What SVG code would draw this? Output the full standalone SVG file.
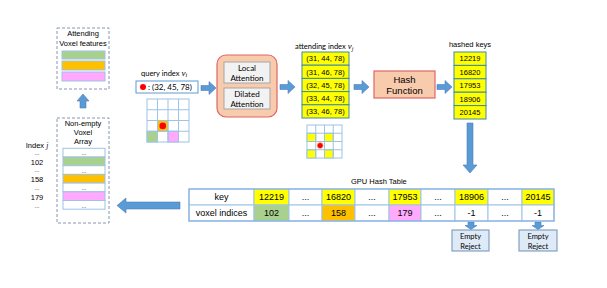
<svg xmlns="http://www.w3.org/2000/svg" width="607" height="288" viewBox="0 0 607 288">
<style>
.a{font-family:"Liberation Sans",Arial,sans-serif;fill:#000}
.c{font-family:Lato,"Liberation Sans",sans-serif;fill:#000}
.m{text-anchor:middle}
.s75{font-size:7.5px}
.s8{font-size:8px}
.s9{font-size:9px}
.dots{font-size:6px}
.dash{fill:#fff;stroke:#8497B0;stroke-width:1;stroke-dasharray:3 2}
.cell{stroke:#9DC3E6;stroke-width:1}
.arrow{fill:#5B9BD5;stroke:#4A7EBB;stroke-width:0.6}
.y{fill:#FFFF00}.g{fill:#A9D18E}.o{fill:#FFC000}.p{fill:#FFA9FF}.w{fill:#fff}
.salmon{fill:#F8CBAD;stroke:#E06666;stroke-width:1.2}
.inner{fill:#F2F2F2;stroke:#A6A6A6;stroke-width:1}
.list{stroke:#3E8AA8;stroke-width:1}
.rej{fill:#DEEBF7;stroke:#6F8FB8;stroke-width:1}
.v{font-family:"Liberation Serif",serif;font-style:italic}
</style>

<g id="connectors">
<path class="arrow" d="M83,94 L89,101 L86,101 L86,108 L80,108 L80,101 L77,101 Z"/>
<path class="arrow" d="M117,205.5 L126,198 L126,202 L180,202 L180,209 L126,209 L126,213 Z"/>
<path class="arrow" d="M201,85.5 L209,85.5 L209,81.5 L216,88 L209,94.5 L209,90.5 L201,90.5 Z"/>
<path class="arrow" d="M280,84.5 L288,84.5 L288,80.5 L295,87 L288,93.5 L288,89.5 L280,89.5 Z"/>
<path class="arrow" d="M354,84.5 L362,84.5 L362,80.5 L369,87 L362,93.5 L362,89.5 L354,89.5 Z"/>
<path class="arrow" d="M437,84.5 L445,84.5 L445,80.5 L452,87 L445,93.5 L445,89.5 L437,89.5 Z"/>
<path class="arrow" d="M467,123 L473,123 L473,165 L477,165 L470,173 L463,165 L467,165 Z"/>
<path class="arrow" d="M468,222 L474,222 L474,225.5 L477,225.5 L471,229.5 L465,225.5 L468,225.5 Z"/>
<path class="arrow" d="M535,222 L541,222 L541,225.5 L544,225.5 L538,229.5 L532,225.5 L535,225.5 Z"/>
</g>

<g id="attending-features">
<rect class="dash" x="57" y="28" width="52" height="61"/>
<text class="a s75 m" x="83" y="36">Attending</text>
<text class="a s75 m" x="83" y="46">Voxel features</text>
<rect class="cell g" x="62" y="51" width="43" height="8"/>
<rect class="cell o" x="62" y="61" width="43" height="9"/>
<rect class="cell p" x="62" y="72" width="43" height="9"/>
</g>

<g id="voxel-array">
<rect class="dash" x="57" y="118" width="52" height="105"/>
<text class="a s75 m" x="83" y="126">Non-empty</text>
<text class="a s75 m" x="83" y="135">Voxel</text>
<text class="a s75 m" x="83" y="144">Array</text>
<rect class="cell w" x="63" y="148.3" width="42" height="8.7"/>
<rect class="cell g" x="63" y="157" width="42" height="8.7"/>
<rect class="cell w" x="63" y="165.7" width="42" height="8.7"/>
<rect class="cell o" x="63" y="174.4" width="42" height="8.7"/>
<rect class="cell w" x="63" y="183.1" width="42" height="8.7"/>
<rect class="cell p" x="63" y="191.8" width="42" height="8.7"/>
<rect class="cell w" x="63" y="200.5" width="42" height="8.7"/>
<text class="a dots m" x="84" y="155.3">...</text>
<text class="a dots m" x="84" y="172.7">...</text>
<text class="a dots m" x="84" y="190.1">...</text>
<text class="a dots m" x="84" y="207.5">...</text>
</g>

<g id="index-labels">
<text class="a s75 m" x="37" y="147.5">Index <tspan class="v">j</tspan></text>
<text class="a dots m" x="37" y="155">...</text>
<text class="a s75 m" x="37" y="165">102</text>
<text class="a dots m" x="37" y="172">...</text>
<text class="a s75 m" x="37" y="182.3">158</text>
<text class="a dots m" x="37" y="190">...</text>
<text class="a s75 m" x="37" y="199.8">179</text>
<text class="a dots m" x="37" y="207.5">...</text>
</g>

<g id="query">
<text class="c s75" x="141" y="75.5">query index <tspan class="v" font-size="9">v</tspan><tspan class="v" font-size="6" dy="1.5">i</tspan></text>
<rect x="136" y="81" width="62" height="12" fill="#fff" stroke="#5B9BD5" stroke-width="1"/>
<circle cx="143" cy="87" r="3" fill="#FF0000"/>
<text class="c s8" x="148" y="90">: (32, 45, 78)</text>
</g>

<g id="query-grid">
<rect class="cell w" x="147" y="99" width="42" height="43"/>
<rect class="cell o" x="157.5" y="120.5" width="10.5" height="10.75"/>
<rect class="cell g" x="147" y="131.25" width="10.5" height="10.75"/>
<rect class="cell p" x="168" y="131.25" width="10.5" height="10.75"/>
<path d="M157.5,99V142M168,99V142M178.5,99V142M147,109.75H189M147,120.5H189M147,131.25H189" stroke="#9DC3E6" stroke-width="1" fill="none"/>
<circle cx="162.75" cy="125.9" r="3.3" fill="#FF0000"/>
</g>

<g id="attention">
<rect class="salmon" x="217" y="55" width="60" height="62" rx="9"/>
<rect class="inner" x="224" y="62" width="46" height="21"/>
<rect class="inner" x="224" y="88" width="46" height="21"/>
<text class="c s8 m" x="247" y="71">Local</text>
<text class="c s8 m" x="247" y="80.5">Attention</text>
<text class="c s8 m" x="247" y="97">Dilated</text>
<text class="c s8 m" x="247" y="106.5">Attention</text>
</g>

<g id="attending-index">
<text class="c s75" x="295" y="49">attending index <tspan class="v" font-size="9">v</tspan><tspan class="v" font-size="6" dy="1.5">j</tspan></text>
<rect class="list y" x="302" y="52" width="47" height="13.2"/>
<rect class="list y" x="302" y="65.2" width="47" height="13.2"/>
<rect class="list y" x="302" y="78.4" width="47" height="13.2"/>
<rect class="list y" x="302" y="91.6" width="47" height="13.2"/>
<rect class="list y" x="302" y="104.8" width="47" height="13.2"/>
<text class="a s75 m" x="325.5" y="61.3">(31, 44, 78)</text>
<text class="a s75 m" x="325.5" y="74.5">(31, 46, 78)</text>
<text class="a s75 m" x="325.5" y="87.7">(32, 45, 78)</text>
<text class="a s75 m" x="325.5" y="100.9">(33, 44, 78)</text>
<text class="a s75 m" x="325.5" y="114.1">(33, 46, 78)</text>
</g>

<g id="attending-grid">
<rect class="cell w" x="307" y="125" width="35" height="33"/>
<rect class="cell y" x="307" y="133.25" width="8.75" height="8.25"/>
<rect class="cell y" x="324.5" y="133.25" width="8.75" height="8.25"/>
<rect class="cell y" x="307" y="149.75" width="8.75" height="8.25"/>
<rect class="cell y" x="324.5" y="149.75" width="8.75" height="8.25"/>
<path d="M315.75,125V158M324.5,125V158M333.25,125V158M307,133.25H342M307,141.5H342M307,149.75H342" stroke="#9DC3E6" stroke-width="1" fill="none"/>
<circle cx="320.1" cy="145.6" r="3" fill="#FF0000" stroke="#FFD27F" stroke-width="0.6"/>
</g>

<g id="hash-function">
<rect class="salmon" x="374" y="71" width="61" height="27"/>
<text class="a m" font-size="9.5" x="404.5" y="82.5">Hash</text>
<text class="a m" font-size="9.5" x="404.5" y="93.5">Function</text>
</g>

<g id="hashed-keys">
<text class="a s75 m" x="470" y="47">hashed keys</text>
<rect class="list y" x="454" y="52" width="32" height="13.4"/>
<rect class="list y" x="454" y="65.4" width="32" height="13.4"/>
<rect class="list y" x="454" y="78.8" width="32" height="13.4"/>
<rect class="list y" x="454" y="92.2" width="32" height="13.4"/>
<rect class="list y" x="454" y="105.6" width="32" height="13.4"/>
<text class="a s75 m" x="470" y="61.4">12219</text>
<text class="a s75 m" x="470" y="74.8">16820</text>
<text class="a s75 m" x="470" y="88.2">17953</text>
<text class="a s75 m" x="470" y="101.6">18906</text>
<text class="a s75 m" x="470" y="115">20145</text>
</g>

<g id="hash-table">
<text class="a s75" x="351" y="184">GPU Hash Table</text>
<rect class="cell w" x="189" y="189" width="65" height="16"/>
<rect class="cell y" x="254" y="189" width="35" height="16"/>
<rect class="cell w" x="289" y="189" width="33" height="16"/>
<rect class="cell y" x="322" y="189" width="33" height="16"/>
<rect class="cell w" x="355" y="189" width="34" height="16"/>
<rect class="cell y" x="389" y="189" width="32" height="16"/>
<rect class="cell w" x="421" y="189" width="34" height="16"/>
<rect class="cell y" x="455" y="189" width="33" height="16"/>
<rect class="cell w" x="488" y="189" width="34" height="16"/>
<rect class="cell y" x="522" y="189" width="32" height="16"/>
<rect class="cell w" x="189" y="205" width="65" height="16"/>
<rect class="cell g" x="254" y="205" width="35" height="16"/>
<rect class="cell w" x="289" y="205" width="33" height="16"/>
<rect class="cell o" x="322" y="205" width="33" height="16"/>
<rect class="cell w" x="355" y="205" width="34" height="16"/>
<rect class="cell p" x="389" y="205" width="32" height="16"/>
<rect class="cell w" x="421" y="205" width="34" height="16"/>
<rect class="cell w" x="455" y="205" width="33" height="16"/>
<rect class="cell w" x="488" y="205" width="34" height="16"/>
<rect class="cell w" x="522" y="205" width="32" height="16"/>
<rect x="189" y="189" width="365" height="32" fill="none" stroke="#8DB4E2" stroke-width="1.3"/>
<text class="a s9 m" x="221.5" y="200.3">key</text>
<text class="a s9 m" x="271.5" y="200.3">12219</text>
<text class="a s9 m" x="305.5" y="200.3">...</text>
<text class="a s9 m" x="338.5" y="200.3">16820</text>
<text class="a s9 m" x="372" y="200.3">...</text>
<text class="a s9 m" x="405" y="200.3">17953</text>
<text class="a s9 m" x="438" y="200.3">...</text>
<text class="a s9 m" x="471.5" y="200.3">18906</text>
<text class="a s9 m" x="505" y="200.3">...</text>
<text class="a s9 m" x="538" y="200.3">20145</text>
<text class="a s9 m" x="221.5" y="216.3">voxel indices</text>
<text class="a s9 m" x="271.5" y="216.3">102</text>
<text class="a s9 m" x="305.5" y="216.3">...</text>
<text class="a s9 m" x="338.5" y="216.3">158</text>
<text class="a s9 m" x="372" y="216.3">...</text>
<text class="a s9 m" x="405" y="216.3">179</text>
<text class="a s9 m" x="438" y="216.3">...</text>
<text class="a s9 m" x="471.5" y="216.3">-1</text>
<text class="a s9 m" x="505" y="216.3">...</text>
<text class="a s9 m" x="538" y="216.3">-1</text>
</g>

<g id="reject-1">
<rect class="rej" x="452" y="230" width="37" height="21"/>
<text class="c s75 m" x="470.5" y="238.5">Empty</text>
<text class="c s75 m" x="470.5" y="248.5">Reject</text>
</g>
<g id="reject-2">
<rect class="rej" x="519" y="230" width="38" height="21"/>
<text class="c s75 m" x="538" y="238.5">Empty</text>
<text class="c s75 m" x="538" y="248.5">Reject</text>
</g>
</svg>
